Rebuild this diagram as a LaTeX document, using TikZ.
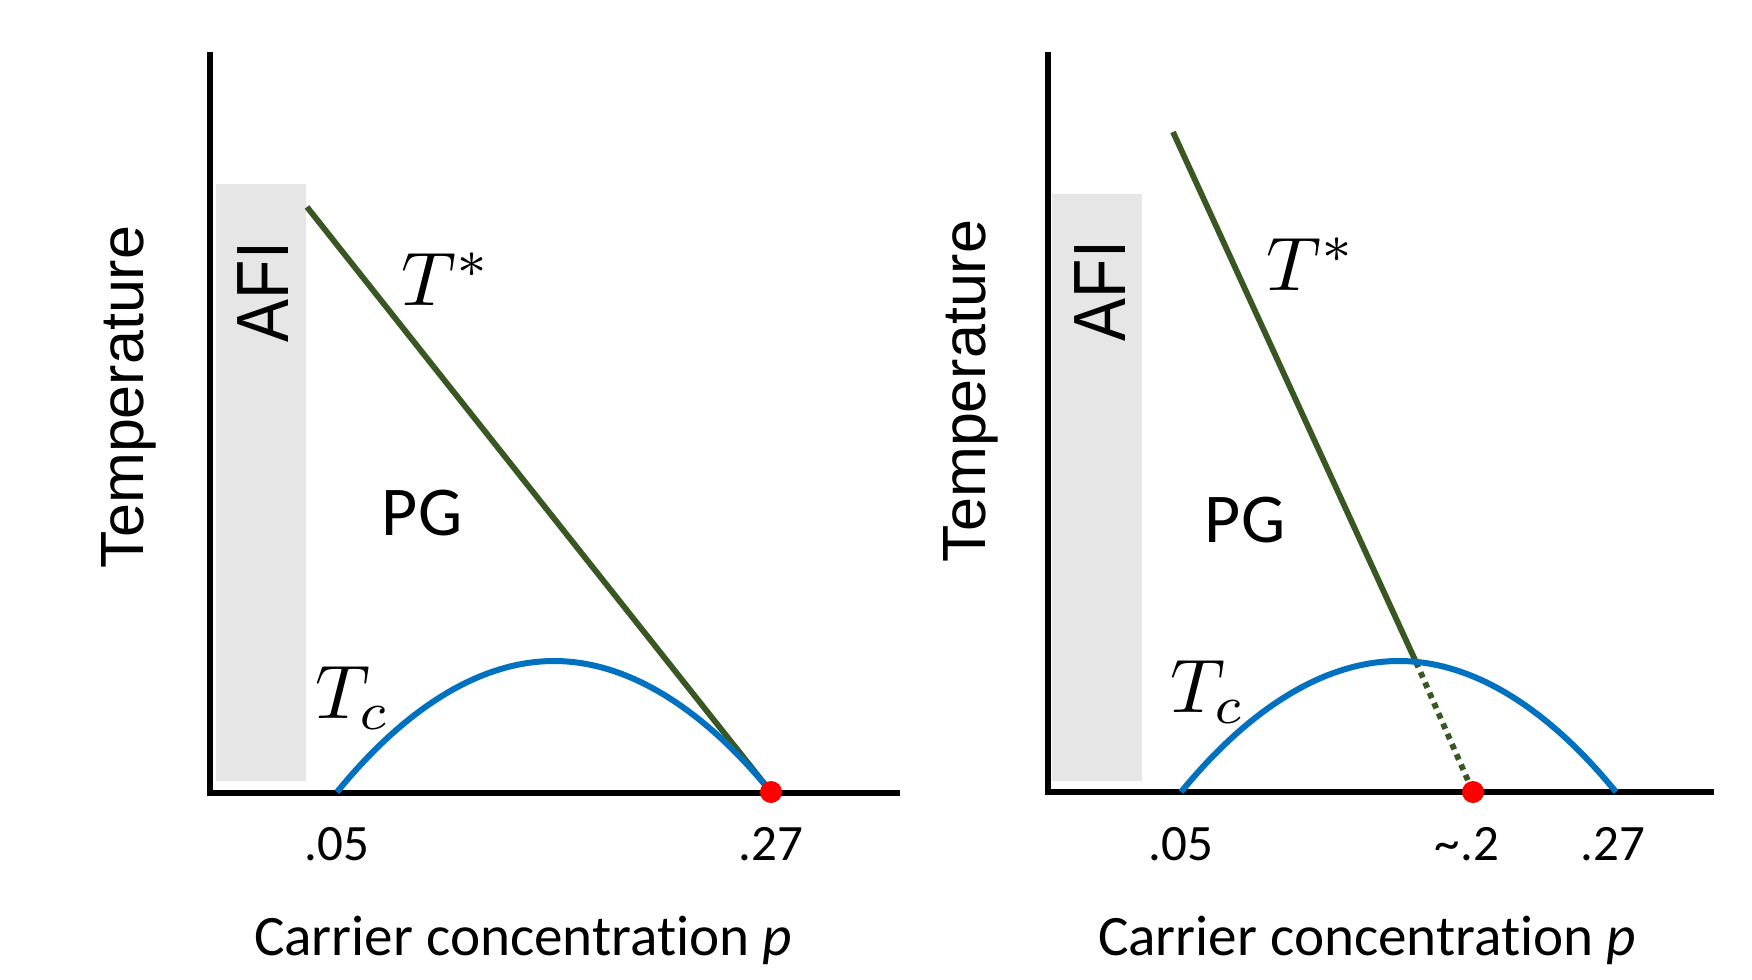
\documentclass[tikz,border=0pt]{standalone}
\usepackage{fontspec}
\setmainfont{Carlito}[Ligatures=NoCommon]
\newfontfamily\arialfont{Liberation Sans}
\definecolor{tcblue}{HTML}{0070C0}
\definecolor{tsgreen}{HTML}{385723}
\definecolor{afigray}{HTML}{E6E6E6}
\definecolor{dotred}{HTML}{FF0000}
\newcommand{\bigmath}[1]{\scalebox{3.8}{$#1$}}
\begin{document}
\begin{tikzpicture}[x=0.5pt,y=-0.5pt,
 axisline/.style={line width=3.2pt, line join=miter},
 tcline/.style={tcblue, line width=3pt},
 tsline/.style={tsgreen, line width=2.9pt},
 tsdotted/.style={tsgreen, line width=2.9pt, dash pattern=on 2.9pt off 2.7pt},
 afibox/.style={fill=afigray, inner sep=0pt, anchor=north west, minimum width=45pt},
 dotnode/.style={circle, fill=dotred, inner sep=0pt, minimum size=11pt},
 ticklabel/.style={anchor=base, inner sep=0pt, font=\fontsize{25.5}{30}\selectfont},
 xlabel/.style={anchor=base, inner sep=0pt, font=\fontsize{28.6}{34}\selectfont},
 ylabel/.style={anchor=base, rotate=90, inner sep=0pt, font=\arialfont\fontsize{30.5}{36}\selectfont},
 afilabel/.style={anchor=base, rotate=90, inner sep=0pt, font=\arialfont\fontsize{37}{44}\selectfont},
 pglabel/.style={anchor=base, inner sep=0pt, font=\fontsize{35}{42}\selectfont},
 mathlabel/.style={anchor=base, inner sep=0pt, font=\fontsize{10}{12}\selectfont},
]
\useasboundingbox (0,0) rectangle (1752,980);

% ---------------- left panel ----------------
\node[afibox, minimum height=298.5pt] (Lafibox) at (216,184) {};
\coordinate (Ltop) at (210,52);
\coordinate (Lorig) at (210,793);
\coordinate (Lxend) at (900,793);
\draw[axisline] (Ltop) -- (Lorig) -- (Lxend);

\coordinate (LTsStart) at (307,207);
\coordinate (LTcStart) at (337,792);
\coordinate (LTcPeak) at (554,661);
\coordinate (LEnd) at (771,792);
\draw[tsline] (LTsStart) -- (LEnd);
\draw[tcline] (LTcStart) parabola bend (LTcPeak) (LEnd);
\node[dotnode] (Ldot) at (LEnd) {};

\node[ylabel] (Ltemp) at (143,397) {Temperature};
\node[afilabel] (Lafi) at (288,292) {\scalebox{0.87}[1]{AFI}};
\node[mathlabel] (LTs) at (446,305) {\bigmath{T^*}};
\node[mathlabel] (LTc) at (353,718) {\bigmath{T_c}};
\node[pglabel] (LPG) at (422,535) {PG};
\node[ticklabel] (L05) at (337,860) {.05};
\node[ticklabel] (L27) at (771,860) {.27};
\node[xlabel] (Lx) at (523,955) {Carrier concentration \textit{p}};

% ---------------- right panel ----------------
\node[afibox, minimum height=293.5pt] (Rafibox) at (1052,194) {};
\coordinate (Rtop) at (1048,52);
\coordinate (Rorig) at (1048,792);
\coordinate (Rxend) at (1714,792);
\draw[axisline] (Rtop) -- (Rorig) -- (Rxend);

\coordinate (RTsStart) at (1173,132);
\coordinate (RCross) at (1416,662);
\coordinate (RDotPos) at (1473,792);
\coordinate (RTcStart) at (1181,792);
\coordinate (RTcPeak) at (1399,661);
\coordinate (RTcEnd) at (1616,792);
\draw[tsline] (RTsStart) -- (RCross);
\draw[tsdotted] (RCross) -- (RDotPos);
\draw[tcline] (RTcStart) parabola bend (RTcPeak) (RTcEnd);
\node[dotnode] (Rdot) at (RDotPos) {};

\node[ylabel] (Rtemp) at (985,391) {Temperature};
\node[afilabel] (Rafi) at (1125,291) {\scalebox{0.87}[1]{AFI}};
\node[mathlabel] (RTs) at (1311,290) {\bigmath{T^*}};
\node[mathlabel] (RTc) at (1208,712) {\bigmath{T_c}};
\node[pglabel] (RPG) at (1245,542) {PG};
\node[ticklabel] (R05) at (1181,860) {.05};
\node[ticklabel] (R2) at (1467,860) {\textasciitilde.2};
\node[ticklabel] (R27) at (1613,860) {.27};
\node[xlabel] (Rx) at (1367,955) {Carrier concentration \textit{p}};
\end{tikzpicture}
\end{document}
